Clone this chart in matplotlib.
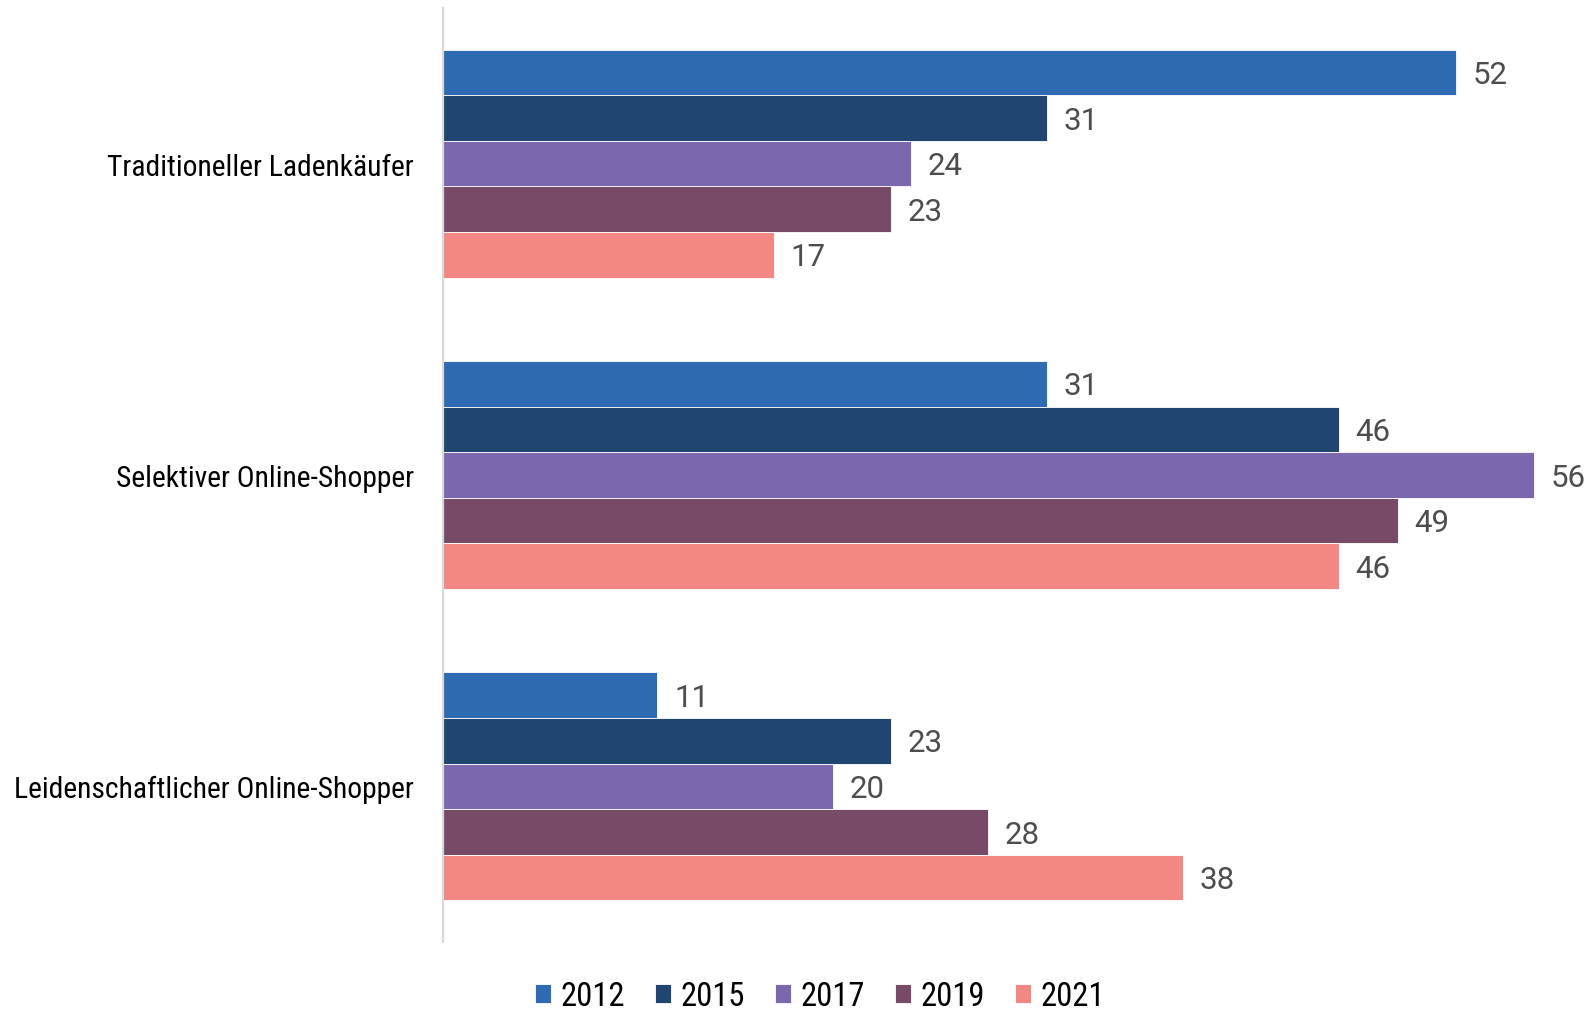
import matplotlib
matplotlib.use("Agg")
import matplotlib.pyplot as plt
from matplotlib import font_manager
import numpy as np

categories = ["Traditioneller Ladenkäufer", "Selektiver Online-Shopper", "Leidenschaftlicher Online-Shopper"]
years = ["2012", "2015", "2017", "2019", "2021"]
v2012 = [52, 31, 11]
v2015 = [31, 46, 23]
v2017 = [24, 56, 20]
v2019 = [23, 49, 28]
v2021 = [17, 46, 38]
series = [v2012, v2015, v2017, v2019, v2021]
colors = ["#2E6BB2", "#1F4570", "#7A67AD", "#774A68", "#F28783"]

names = {f.name for f in font_manager.fontManager.ttflist}
narrow = None
for cand in ["Liberation Sans Narrow", "Arial Narrow", "Roboto Condensed", "Open Sans Condensed"]:
    if cand in names:
        narrow = cand
        break
if narrow:
    cat_font, cat_size, leg_size = narrow, 21.3, 23.5
else:
    cat_font, cat_size, leg_size = "Liberation Sans", 18, 19

fig = plt.figure(figsize=(15.88, 10.12), dpi=100)
ax = fig.add_axes([443/1588, 1-943/1012, 1-443/1588, (943-9)/1012])

n = len(series)
h = 0.1465
y = np.arange(len(categories))
for i, (vals, c, yr) in enumerate(zip(series, colors, years)):
    pos = y - (n/2)*h + (i+0.5)*h
    bars = ax.barh(pos, vals, height=h, color=c, edgecolor="white", linewidth=0.6, label=yr)
    for b, v in zip(bars, vals):
        ax.annotate(str(v), xy=(b.get_width(), b.get_y()+b.get_height()/2),
                    xytext=(12, -1.5), textcoords="offset points", va="center", ha="left",
                    fontsize=22.5, color="#4D4D4D", family="Roboto", fontweight="normal")

ax.set_ylim(2.5, -0.5)
ax.set_xlim(0, (1588-443)/19.48)
ax.set_yticks(y)
ax.set_yticklabels(categories, fontsize=cat_size, family=[cat_font, "DejaVu Sans"], color="black")
ax.tick_params(axis="y", length=0, pad=21)
ax.set_xticks([])
for s in ["top", "right", "bottom"]:
    ax.spines[s].set_visible(False)
ax.spines["left"].set_color("#D9D9D9")
ax.spines["left"].set_linewidth(1.6)

leg = fig.legend(loc="center", bbox_to_anchor=(820/1588, 1-997/1012), ncol=5, frameon=False,
                 prop={"family": [cat_font, "DejaVu Sans"], "size": leg_size},
                 handlelength=0.5, handleheight=0.55, handletextpad=0.3, columnspacing=0.9)

fig.savefig("out.png", dpi=100)
